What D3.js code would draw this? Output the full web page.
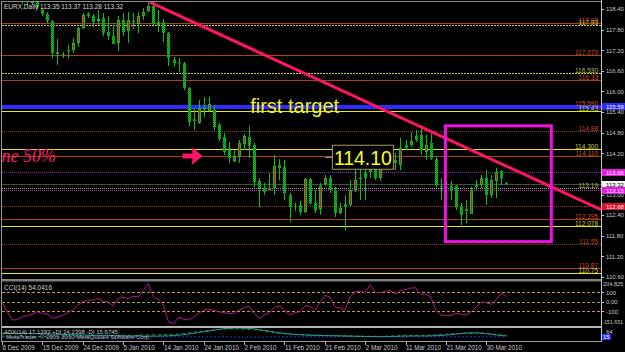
<!DOCTYPE html>
<html>
<head>
<meta charset="utf-8">
<script src="https://cdn.jsdelivr.net/npm/d3@7"></script>
<style>
  html, body { margin: 0; padding: 0; background: #000; overflow: hidden; }
  svg { display: block; font-family: "Liberation Sans", Arial, sans-serif; }
</style>
</head>
<body>
<svg id="chart" width="625" height="352"></svg>
<script>
// ---- data ----
const titleText = "EURX,Daily  113.35 113.37 113.28 113.32";

// daily bars [open, high, low, close], one per bar from 6 Dec 2009
const ohlc = [
  [118.90,119.05,118.75,118.85],[118.85,118.95,118.70,118.80],[118.80,118.90,118.62,118.70],[118.70,118.85,118.60,118.78],
  [118.78,118.90,118.56,118.62],[118.62,118.70,118.50,118.58],[118.58,118.75,118.52,118.66],[118.66,118.72,118.40,118.45],
  [118.37,118.42,118.20,118.25],[118.25,118.30,118.00,118.05],[118.05,118.08,116.98,117.12],[117.15,117.53,116.77,117.10],
  [117.10,117.15,116.98,117.08],[117.22,117.35,116.98,117.18],[117.21,117.56,117.12,117.41],[117.41,117.88,117.30,117.85],
  [117.85,118.28,117.82,118.22],[118.25,118.30,118.15,118.20],[118.20,118.25,117.88,118.02],[118.05,118.37,117.93,118.11],
  [118.14,118.28,117.62,117.70],[117.73,118.20,117.50,117.62],[117.62,117.93,117.38,117.38],[117.41,118.20,117.18,118.08],
  [118.08,118.28,117.62,117.73],[117.76,118.31,117.41,118.08],[118.05,118.28,117.82,118.02],[117.96,118.31,117.70,118.20],
  [118.20,118.43,118.08,118.31],[118.34,118.60,118.31,118.49],[118.49,118.60,117.93,117.96],[117.93,118.37,117.73,118.02],
  [118.02,118.11,117.44,117.70],[117.70,117.73,116.74,116.98],[116.92,117.00,116.71,116.83],[116.86,116.98,116.57,116.84],
  [116.83,116.86,116.05,116.10],[116.10,116.12,115.00,115.12],[115.20,115.52,114.88,115.14],[115.09,115.75,115.06,115.52],
  [115.55,115.84,115.26,115.45],[115.43,115.84,115.40,115.64],[115.46,115.61,114.88,114.97],[115.03,115.09,114.56,114.62],
  [114.68,114.80,114.16,114.24],[114.30,114.53,113.92,114.07],[113.98,114.30,113.95,114.13],[114.13,114.59,113.92,114.51],
  [114.48,114.77,114.30,114.71],[114.68,115.00,114.07,114.42],[114.45,114.50,113.23,113.37],[113.40,113.49,112.64,113.20],
  [113.20,113.34,112.99,113.08],[113.20,113.63,113.14,113.15],[113.20,114.16,112.99,113.84],[113.87,114.04,113.43,113.78],
  [113.81,114.01,112.85,113.05],[112.99,113.05,112.21,112.64],[112.67,112.76,112.53,112.64],[112.70,112.82,112.41,112.50],
  [112.50,113.49,112.47,113.46],[113.46,113.49,112.70,112.76],[112.76,113.14,112.47,112.56],[112.59,113.34,112.41,113.26],
  [113.31,113.57,113.26,113.49],[113.49,113.57,113.05,113.14],[113.14,113.23,112.35,112.47],[112.47,112.76,112.44,112.62],
  [112.73,112.99,111.98,112.64],[112.70,113.43,112.67,113.14],[113.14,113.78,113.08,113.43],[113.49,113.87,112.85,113.46],
  [113.66,113.78,112.85,113.49],[113.66,114.24,113.49,114.04],[113.93,114.16,113.43,113.49],[113.49,113.78,113.40,113.75],
  [113.84,113.95,113.78,113.87],[114.16,114.30,114.07,114.22],[114.01,114.22,113.72,113.93],[113.87,114.65,113.72,114.36],
  [114.45,114.59,114.30,114.36],[114.45,114.83,114.39,114.56],[114.71,114.88,114.53,114.59],[114.74,115.03,114.16,114.30],
  [114.24,114.74,114.01,114.45],[114.50,114.80,114.01,114.07],[114.04,114.10,113.23,113.28],[113.26,113.49,112.85,113.23],
  [113.22,113.37,112.99,113.18],[113.26,113.40,112.85,113.14],[113.26,113.28,112.56,112.64],[112.67,112.76,112.12,112.41],
  [112.59,112.85,112.18,112.53],[112.44,113.23,112.44,113.14],[113.28,113.43,113.14,113.23],[113.28,113.57,113.20,113.49],
  [113.49,113.72,112.70,112.99],[112.99,113.57,112.91,113.43],[113.40,113.78,112.91,113.66],[113.69,113.72,113.28,113.49],
  [113.35,113.37,113.28,113.32]
];

const dateBars = [0, 8, 16, 24, 32, 40, 48, 56, 64, 72, 80, 88, 96];
const dateLabels = ["6 Dec 2009", "15 Dec 2009", "24 Dec 2009", "5 Jan 2010", "14 Jan 2010", "24 Jan 2010",
  "2 Feb 2010", "11 Feb 2010", "21 Feb 2010", "2 Mar 2010", "11 Mar 2010", "21 Mar 2010", "30 Mar 2010"];

const priceTicks = [118.40, 117.80, 117.20, 116.60, 116.00, 115.40, 114.80, 114.20, 113.60, 113.00, 112.40, 111.80, 111.20, 110.60];

// horizontal levels drawn on the chart
const brownLevels = [117.98, 117.07, 116.33, 114.11, 112.29, 110.86];
const brownLabels = ["117.98", "117.070", "116.33", "114.110", "112.295", "110.87"];
const brownDotLevels = [114.86, 112.67, 111.55];
const brownDotLabels = ["114.88", "", "111.55"];
const yellowLevels = [115.43, 114.33, 112.078, 110.73];
const yellowLabels = ["115.43", "114.300", "112.078", "110.75"];
const yellowDashLevels = [117.93, 116.55];
const yellowDashLabels = ["117.93", "116.530"];
const targetLevel = 115.59, targetLabel = "115.590";
const purpleLevel = 113.66;
const bidLevel = 113.32;
const greyDotLevel = 113.20, greyDotLabel = "113.19";
const magentaDotLevel = 113.14;

// price tags on the right axis
const tagPrices = [115.59, 113.66, 113.32, 113.14, 112.67];
const tagTexts = ["115.59", "113.66", "113.32", "113.15", "112.68"];

// drawn objects
const trendBars = [29.3, 118.75];
const trendPrices = [118.60, 112.56];
const boxBars = [87.9, 108.9];
const boxPrices = [115.00, 111.63];
const arrowBar = 35.8, arrowPrice = 114.12;
const firstTargetBar = 49.2, firstTargetPrice = 115.37;
const priceNoteBar = 65.4, priceNoteValue = 114.10;
const fiftyBar = 10.7, fiftyPrice = 113.95;

// CCI(14)
const cciValues = [
  -2, -100, -192, -190, -155, -148, -133, -106, -122, -130, -174, -164, -143, -116, -88, -36, -2, 16, 16, 33,
  8, -2, -47, 33, 50, 33, 57, 50, 119, 189, 50, 26, -36, -209, -233, -164, -184, -192, -164, -122,
  -88, -81, -88, -106, -116, -122, -122, -88, -64, -47, -122, -174, -140, -116, -60, -47, -88, -140, -116, -106,
  -47, -47, -88, -12, 67, 50, -54, -64, -88, 50, 102, 112, 95, 178, 95, 95, 109, 119, 78, 119,
  126, 143, 147, 78, 78, 50, -88, -140, -147, -147, -122, -130, -140, -106, -54, -2, -12, -26, 23, 91,
  57
];
const cciLevels = [100, 0, -100];
const cciLevelLabels = ["100", "0.00", "-100"];
const cciMax = "204.825", cciMin = "-151.651";

// ADX(14)
const adxMain = [
  50, 50, 51, 51, 50, 50, 49, 48, 47, 46, 45, 44, 43, 42, 41, 40, 39, 38, 37, 36,
  35, 34, 33, 33, 32, 32, 31, 31, 30, 30, 30, 30, 31, 32, 34, 37, 41, 46, 52, 58,
  64, 70, 76, 82, 87, 90, 92, 92, 91, 89, 86, 80, 74, 68, 62, 56, 50, 46, 43, 41,
  39, 37, 36, 35, 34, 33, 33, 32, 31, 30, 29, 28, 27, 27, 26, 26, 26, 27, 28, 29,
  30, 31, 31, 31, 31, 32, 33, 35, 38, 42, 46, 50, 54, 55, 55, 53, 49, 44, 39, 35,
  31
];
const diBars = [0, 5, 10, 15, 20, 25, 30, 35, 40, 45, 50, 55, 60, 65, 70, 75, 80, 85, 90, 95, 100];
const plusDI = [30, 28, 25, 30, 35, 36, 40, 45, 70, 88, 80, 50, 40, 35, 30, 28, 35, 38, 50, 55, 35];
const minusDI = [20, 22, 24, 22, 20, 22, 24, 25, 26, 24, 22, 25, 25, 26, 27, 26, 24, 25, 26, 25, 24];

// ---- drawing ----
function drawChart() {
  const svg = d3.select('#chart');
  const W = 625;
  const plotLeft = 2, plotRight = 601;

  const x = d3.scaleLinear().domain([0, 118.75]).range([plotLeft, plotRight]);
  const y = d3.scaleLinear().domain([110.60, 118.40]).range([277, 9]);
  const yCci = d3.scaleLinear().domain([-100, 100]).range([311.2, 292.2]);
  const yAdx = d3.scaleLinear().domain([0, 64]).range([340, 331.7]);

  svg.append('rect').attr('width', W).attr('height', 352).attr('fill', '#000');

  const defs = svg.append('defs');
  const pat = defs.append('pattern').attr('id', 'hatch')
      .attr('patternUnits', 'userSpaceOnUse').attr('width', 2).attr('height', 2);
  pat.append('rect').attr('width', 2).attr('height', 2).attr('fill', '#10d010');
  pat.append('rect').attr('width', 1).attr('height', 1).attr('fill', '#0a7a1e');
  pat.append('rect').attr('x', 1).attr('y', 1).attr('width', 1).attr('height', 1).attr('fill', '#0a7a1e');

  defs.append('clipPath').attr('id', 'clipMain').append('rect')
      .attr('x', plotLeft).attr('y', 2).attr('width', plotRight - plotLeft).attr('height', 277);
  defs.append('clipPath').attr('id', 'clipCci').append('rect')
      .attr('x', plotLeft).attr('y', 281.5).attr('width', plotRight - plotLeft).attr('height', 44.5);
  defs.append('clipPath').attr('id', 'clipAdx').append('rect')
      .attr('x', plotLeft).attr('y', 328).attr('width', plotRight - plotLeft).attr('height', 13);

  const main = svg.append('g').attr('clip-path', 'url(#clipMain)');

  // level lines
  function levelLines(values, color, dash, width) {
    main.append('g').selectAll('line').data(values).join('line')
        .attr('x1', plotLeft).attr('x2', plotRight)
        .attr('y1', d => Math.round(y(d)) + 0.5).attr('y2', d => Math.round(y(d)) + 0.5)
        .attr('stroke', color).attr('stroke-width', width || 1)
        .attr('stroke-dasharray', dash || null)
        .attr('shape-rendering', 'crispEdges');
  }
  function levelText(values, labels, color) {
    main.append('g').selectAll('text').data(values).join('text')
        .attr('x', plotRight - 3).attr('y', d => Math.round(y(d)) - 0.5)
        .attr('text-anchor', 'end').attr('font-size', 6.5).attr('fill', color)
        .text((d, i) => labels[i]);
  }

  levelLines(brownLevels, '#a8401e');
  levelLines(brownDotLevels, '#93381c', '1,1');
  levelLines(yellowLevels, '#e6e61a');
  levelLines(yellowDashLevels, '#d2d23a', '2,1');
  levelLines([purpleLevel], '#8a22c8', '1,1');
  levelLines([bidLevel], '#4a4a4a');
  levelLines([greyDotLevel], '#a8b088', '1,1');
  levelLines([magentaDotLevel], '#c020c0', '1,1');
  levelLines([targetLevel], '#2c2cff', null, 4);

  // candles
  const bars = main.append('g');
  bars.selectAll('line').data(ohlc).join('line')
      .attr('x1', (d, i) => Math.round(x(i)) + 0.5).attr('x2', (d, i) => Math.round(x(i)) + 0.5)
      .attr('y1', d => y(d[1])).attr('y2', d => y(d[2]))
      .attr('stroke', '#10c010').attr('stroke-width', 1)
      .attr('shape-rendering', 'crispEdges');

  bars.selectAll('rect.down').data(ohlc.map((d, i) => [d, i]).filter(e => e[0][3] <= e[0][0])).join('rect')
      .attr('class', 'down')
      .attr('x', e => Math.round(x(e[1])) - 1)
      .attr('y', e => Math.round(y(e[0][0])))
      .attr('width', 3)
      .attr('height', e => Math.max(1, Math.round(y(e[0][3]) - y(e[0][0]))))
      .attr('fill', 'url(#hatch)')
      .attr('shape-rendering', 'crispEdges');

  bars.selectAll('rect.up').data(ohlc.map((d, i) => [d, i]).filter(e => e[0][3] > e[0][0])).join('rect')
      .attr('class', 'up')
      .attr('x', e => Math.round(x(e[1])) - 0.5)
      .attr('y', e => Math.round(y(e[0][3])) + 0.5)
      .attr('width', 2)
      .attr('height', e => Math.max(1, Math.round(y(e[0][0]) - y(e[0][3])) - 1))
      .attr('fill', '#d8103c').attr('stroke', '#10c010').attr('stroke-width', 1)
      .attr('shape-rendering', 'crispEdges');

  levelText(brownLevels, brownLabels, '#d0502a');
  levelText(brownDotLevels, brownDotLabels, '#c04a26');
  levelText(yellowLevels, yellowLabels, '#c8c84a');
  levelText(yellowDashLevels, yellowDashLabels, '#b8c040');
  levelText([greyDotLevel], [greyDotLabel], '#b8b860');
  levelText([targetLevel], [targetLabel], '#d0502a');

  // trend line
  main.append('line')
      .attr('x1', x(trendBars[0])).attr('y1', y(trendPrices[0]))
      .attr('x2', x(trendBars[1])).attr('y2', y(trendPrices[1]))
      .attr('stroke', '#ff1464').attr('stroke-width', 3);

  // magenta box
  main.append('rect')
      .attr('x', x(boxBars[0])).attr('y', y(boxPrices[0]))
      .attr('width', x(boxBars[1]) - x(boxBars[0]))
      .attr('height', y(boxPrices[1]) - y(boxPrices[0]))
      .attr('fill', 'none').attr('stroke', '#f010e0').attr('stroke-width', 3);

  // arrow
  const ax = x(arrowBar), ay = y(arrowPrice);
  main.append('path')
      .attr('d', `M${ax},${ay - 2.5} h10 l-1,-6.5 l11,9 l-11,9 l1,-6.5 h-10 Z`)
      .attr('fill', '#ff1464');

  // texts
  main.append('text')
      .attr('x', x(firstTargetBar)).attr('y', y(firstTargetPrice))
      .attr('font-size', 20).attr('fill', '#f2f21a')
      .text('first target');

  const nx = x(priceNoteBar), ny = y(priceNoteValue);
  main.append('line').attr('x1', nx - 7).attr('x2', nx).attr('y1', Math.round(ny) + 0.5).attr('y2', Math.round(ny) + 0.5)
      .attr('stroke', '#909090');
  main.append('rect').attr('x', nx + 0.5).attr('y', ny - 11.5).attr('width', 61).attr('height', 24)
      .attr('fill', '#000').attr('stroke', '#a89860');
  main.append('text').attr('x', nx + 2).attr('y', ny + 8.5)
      .attr('font-size', 21).attr('fill', '#ffff1e').attr('textLength', 58).attr('lengthAdjust', 'spacingAndGlyphs')
      .text(priceNoteValue.toFixed(2));

  main.append('text')
      .attr('x', x(fiftyBar)).attr('y', y(fiftyPrice))
      .attr('text-anchor', 'end')
      .attr('font-family', '"Liberation Serif", serif').attr('font-style', 'italic')
      .attr('font-size', 18).attr('fill', '#ff1e6e')
      .text('Retracement line 50%');

  main.append('text').attr('x', 4).attr('y', 9)
      .attr('font-size', 6.5).attr('fill', '#d8d8d8')
      .text(titleText);

  // ---- CCI panel ----
  const cci = svg.append('g').attr('clip-path', 'url(#clipCci)');
  cci.selectAll('line').data(cciLevels).join('line')
      .attr('x1', plotLeft).attr('x2', plotRight)
      .attr('y1', d => Math.round(yCci(d)) + 0.5).attr('y2', d => Math.round(yCci(d)) + 0.5)
      .attr('stroke', d => d === 0 ? '#a8a848' : '#c89838')
      .attr('stroke-dasharray', '3,2').attr('shape-rendering', 'crispEdges');
  cci.append('path')
      .datum(cciValues)
      .attr('d', d3.line().x((d, i) => x(i)).y(d => yCci(d)))
      .attr('fill', 'none').attr('stroke', '#b01890').attr('stroke-width', 1);
  cci.append('text').attr('x', 4).attr('y', 290)
      .attr('font-size', 6.5).attr('fill', '#d0d0d0').text('CCI(14) 54.0416');

  // ---- ADX panel ----
  const adx = svg.append('g').attr('clip-path', 'url(#clipAdx)');
  adx.append('path').datum(minusDI)
      .attr('d', d3.line().x((d, i) => x(diBars[i])).y(d => yAdx(d)))
      .attr('fill', 'none').attr('stroke', '#1838c8').attr('stroke-dasharray', '2,2');
  adx.append('path').datum(plusDI)
      .attr('d', d3.line().x((d, i) => x(diBars[i])).y(d => yAdx(d)))
      .attr('fill', 'none').attr('stroke', '#2a8a3a').attr('stroke-dasharray', '3,3');
  adx.append('path').datum(adxMain)
      .attr('d', d3.line().x((d, i) => x(i)).y(d => yAdx(d)))
      .attr('fill', 'none').attr('stroke', '#20a0a8').attr('stroke-width', 1);
  adx.append('text').attr('x', 4).attr('y', 333.5)
      .attr('font-size', 6).attr('fill', '#c8c8c8').text('ADX(14) 17.1393 +DI 24.2398 -DI 15.6745');
  adx.append('text').attr('x', 6).attr('y', 338.5)
      .attr('font-size', 6).attr('fill', '#b8b8b8').text('MetaTrader, \u00a9 2001-2010 MetaQuotes Software Corp.');

  // ---- frames and separators ----
  svg.append('rect').attr('x', 1.5).attr('y', 1.5).attr('width', plotRight - 1.5).attr('height', 278)
      .attr('fill', 'none').attr('stroke', '#8c8c8c').attr('shape-rendering', 'crispEdges');
  svg.append('rect').attr('x', 1).attr('y', 279.5).attr('width', plotRight - 1).attr('height', 2).attr('fill', '#7c7c7c');
  svg.append('rect').attr('x', 1).attr('y', 326).attr('width', plotRight - 1).attr('height', 2).attr('fill', '#b4b4b4');
  svg.append('line').attr('x1', 1).attr('x2', plotRight).attr('y1', 341.5).attr('y2', 341.5)
      .attr('stroke', '#9a9a9a').attr('shape-rendering', 'crispEdges');
  svg.append('line').attr('x1', 1.5).attr('x2', 1.5).attr('y1', 1).attr('y2', 342)
      .attr('stroke', '#9a9a9a').attr('shape-rendering', 'crispEdges');
  svg.append('line').attr('x1', plotRight + 0.5).attr('x2', plotRight + 0.5).attr('y1', 0).attr('y2', 342)
      .attr('stroke', '#c8c8c8').attr('shape-rendering', 'crispEdges');

  // ---- right price axis ----
  const axisG = svg.append('g');
  axisG.selectAll('line').data(priceTicks).join('line')
      .attr('x1', plotRight).attr('x2', plotRight + 3)
      .attr('y1', d => Math.round(y(d)) + 0.5).attr('y2', d => Math.round(y(d)) + 0.5)
      .attr('stroke', '#c8c8c8').attr('shape-rendering', 'crispEdges');
  axisG.selectAll('text').data(priceTicks).join('text')
      .attr('x', plotRight + 5).attr('y', d => y(d) + 2.3)
      .attr('font-size', 6).attr('fill', '#c8c8c8')
      .text(d => d.toFixed(2));

  const tagFill = ['#2c2cff', '#e818e0', '#f4f4f4', '#e818e0', '#e01028'];
  const tagInk = ['#ffffff', '#ffffff', '#000000', '#ffffff', '#ffffff'];
  const tags = svg.append('g');
  tags.selectAll('rect').data(tagPrices).join('rect')
      .attr('x', plotRight + 1).attr('y', d => Math.round(y(d)) - 3)
      .attr('width', W - plotRight - 1).attr('height', 7)
      .attr('fill', (d, i) => tagFill[i]);
  tags.selectAll('text').data(tagPrices).join('text')
      .attr('x', plotRight + 5).attr('y', d => Math.round(y(d)) + 2.5)
      .attr('font-size', 6).attr('fill', (d, i) => tagInk[i])
      .text((d, i) => tagTexts[i]);

  // CCI axis
  const cciAxis = svg.append('g');
  cciAxis.selectAll('text.lvl').data(cciLevels).join('text')
      .attr('class', 'lvl')
      .attr('x', plotRight + 5).attr('y', d => yCci(d) + 2.3)
      .attr('font-size', 6).attr('fill', '#c8c8c8')
      .text((d, i) => cciLevelLabels[i]);
  cciAxis.selectAll('line').data(cciLevels).join('line')
      .attr('x1', plotRight).attr('x2', plotRight + 3)
      .attr('y1', d => Math.round(yCci(d)) + 0.5).attr('y2', d => Math.round(yCci(d)) + 0.5)
      .attr('stroke', '#c8c8c8');
  cciAxis.append('text').attr('x', plotRight + 2).attr('y', 285.5)
      .attr('font-size', 5.6).attr('fill', '#c8c8c8').text(cciMax);
  cciAxis.append('text').attr('x', plotRight + 1.5).attr('y', 324)
      .attr('font-size', 5.2).attr('fill', '#c8c8c8').text(cciMin);

  // ADX axis
  svg.append('text').attr('x', plotRight + 5).attr('y', 333.5)
      .attr('font-size', 6).attr('fill', '#c8c8c8').text('64');
  svg.append('rect').attr('x', plotRight + 1).attr('y', 334).attr('width', 9).attr('height', 6)
      .attr('fill', '#2c2cff');
  svg.append('text').attr('x', plotRight + 2).attr('y', 339)
      .attr('font-size', 6).attr('fill', '#ffffff').text('15');

  // ---- time axis ----
  const timeG = svg.append('g');
  timeG.selectAll('line').data(dateBars).join('line')
      .attr('x1', d => Math.round(x(d)) + 0.5).attr('x2', d => Math.round(x(d)) + 0.5)
      .attr('y1', 341).attr('y2', 344.5)
      .attr('stroke', '#b0b0b0').attr('shape-rendering', 'crispEdges');
  timeG.selectAll('text').data(dateBars).join('text')
      .attr('x', d => x(d) + 0.5).attr('y', 350)
      .attr('font-size', 6.3).attr('fill', '#c8c8c8')
      .text((d, i) => dateLabels[i]);
}

window.onload = drawChart;
</script>
</body>
</html>
